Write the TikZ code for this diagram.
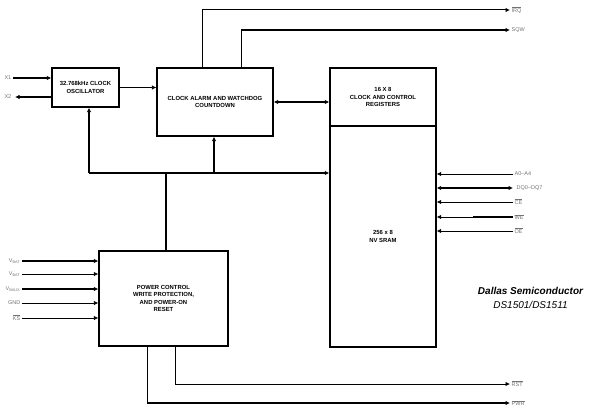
\documentclass[tikz,border=0pt]{standalone}
\usepackage{fontspec}
\setmainfont{Liberation Sans}
\usetikzlibrary{arrows.meta,positioning}

\begin{document}
\begin{tikzpicture}[x=1pt,y=-1pt]
\tikzstyle{block}=[draw, line width=1.3pt, inner sep=0pt, align=center, font=\fontsize{5.9}{7.6}\selectfont\bfseries]
\tikzstyle{sig}=[line width=0.8pt]
\tikzstyle{bus}=[line width=1.5pt]
\tikzstyle{pin}=[font=\fontsize{5.5}{6}\selectfont, text=black!55, inner sep=1.5pt]
\tikzstyle{tip}=[-{Latex[length=4.5pt,width=4.5pt]}]
\tikzstyle{both}=[{Latex[length=4.5pt,width=4.5pt]}-{Latex[length=4.5pt,width=4.5pt]}]
\useasboundingbox (0,0) rectangle (594,412);

% blocks
\node[block, minimum width=67pt, minimum height=39pt] (osc) at (85.5,87.5) {32.768kHz CLOCK\\OSCILLATOR};
\node[block, minimum width=116pt, minimum height=68pt] (alarm) at (215,102) {CLOCK ALARM AND WATCHDOG\\COUNTDOWN};
\node[block, minimum width=106pt, minimum height=58pt] (regs) at (383,97) {16 X 8\\CLOCK AND CONTROL\\REGISTERS};
\node[block, minimum width=106pt, minimum height=221pt] (sram) at (383,236.5) {256 x 8\\NV SRAM};
\node[block, minimum width=129pt, minimum height=95pt] (power) at (163.5,298.5) {POWER CONTROL\\WRITE PROTECTION,\\AND POWER-ON\\RESET};

% outputs on top
\coordinate (irq) at (510,10);
\coordinate (sqw) at (510,30);
\draw[bus] ([xshift=46pt]alarm.north west) -- ([xshift=46pt]alarm.north west |- irq);
\draw[sig,line width=1pt,tip] ([xshift=46pt]alarm.north west |- irq) -- (irq);
\draw[bus,tip] ([xshift=85pt]alarm.north west) |- (sqw);
\node[pin, right] (irqlabel) at (irq) {$\overline{\hbox{IRQ}}$};
\node[pin, right] (sqwlabel) at (sqw) {SQW};

% crystal
\coordinate (x1) at (13,78);
\coordinate (x2) at (15,97);
\draw[bus,tip] (x1) -- (x1 -| osc.west);
\draw[bus,tip] (x2 -| osc.west) -- (x2);
\node[pin, left] (x1label) at (x1) {X1};
\node[pin, left] (x2label) at ([xshift=-2pt]x2) {X2};

\draw[sig,tip] (osc.east) -- (osc.east -| alarm.west);
\draw[bus,both] (alarm.east) -- (alarm.east -| regs.west);

% internal bus
\coordinate (busL) at (89,173);
\coordinate (busM) at (214,173);
\coordinate (busP) at (166,173);
\draw[bus,tip] (busL) -- (busL |- osc.south);
\draw[bus,tip] (busL) -- (busL -| sram.west);
\draw[bus,tip] (busM) -- (busM |- alarm.south);
\draw[bus] (busP) -- (busP |- power.north);

% power inputs
\foreach \y/\name/\w [count=\i] in {261/V\textsubscript{BAT}/bus, 274/V\textsubscript{BAT}/sig, 289/V\textsubscript{BAUX}/bus, 303/GND/sig, 318/$\overline{\hbox{KS}}$/sig}{
  \coordinate (in\i) at (22,\y);
  \draw[\w,tip] (in\i) -- (in\i -| power.west);
  \node[pin, left] (inlabel\i) at (in\i) {\name};
}

% power outputs
\coordinate (rst) at (510,384);
\coordinate (pwr) at (510,403);
\draw[sig,tip] ([xshift=77pt]power.south west) |- (rst);
\draw[bus,tip] ([xshift=49pt]power.south west) |- (pwr);
\node[pin, right] (rstlabel) at (rst) {$\overline{\hbox{RST}}$};
\node[pin, right] (pwrlabel) at (pwr) {$\overline{\hbox{PWR}}$};

% sram pins
\coordinate (addr) at (513,174);
\coordinate (dq) at (513,188);
\coordinate (ce) at (513,202);
\coordinate (we) at (513,217);
\coordinate (oe) at (513,231);
\draw[sig,tip] (addr) -- (addr -| sram.east);
\draw[bus,both] (dq -| sram.east) -- (dq);
\draw[sig,tip] (ce) -- (ce -| sram.east);
\draw[sig,tip] (we) -- (we -| sram.east);
\draw[bus] ([xshift=-40pt]we) -- (we);
\draw[sig,tip] (oe) -- (oe -| sram.east);
\node[pin, right] (addrlabel) at (addr) {A0--A4};
\node[pin, right] (dqlabel) at ([xshift=2pt]dq) {DQ0--DQ7};
\node[pin, right] (celabel) at (ce) {$\overline{\hbox{CE}}$};
\node[pin, right] (welabel) at (we) {$\overline{\hbox{WE}}$};
\node[pin, right] (oelabel) at (oe) {$\overline{\hbox{OE}}$};

% maker
\node[font=\fontsize{10}{11}\selectfont\bfseries\itshape] (maker) at (530.5,291) {Dallas Semiconductor};
\node[font=\fontsize{10}{11}\selectfont\itshape, below=0pt of maker] (part) {DS1501/DS1511};
\end{tikzpicture}
\end{document}
